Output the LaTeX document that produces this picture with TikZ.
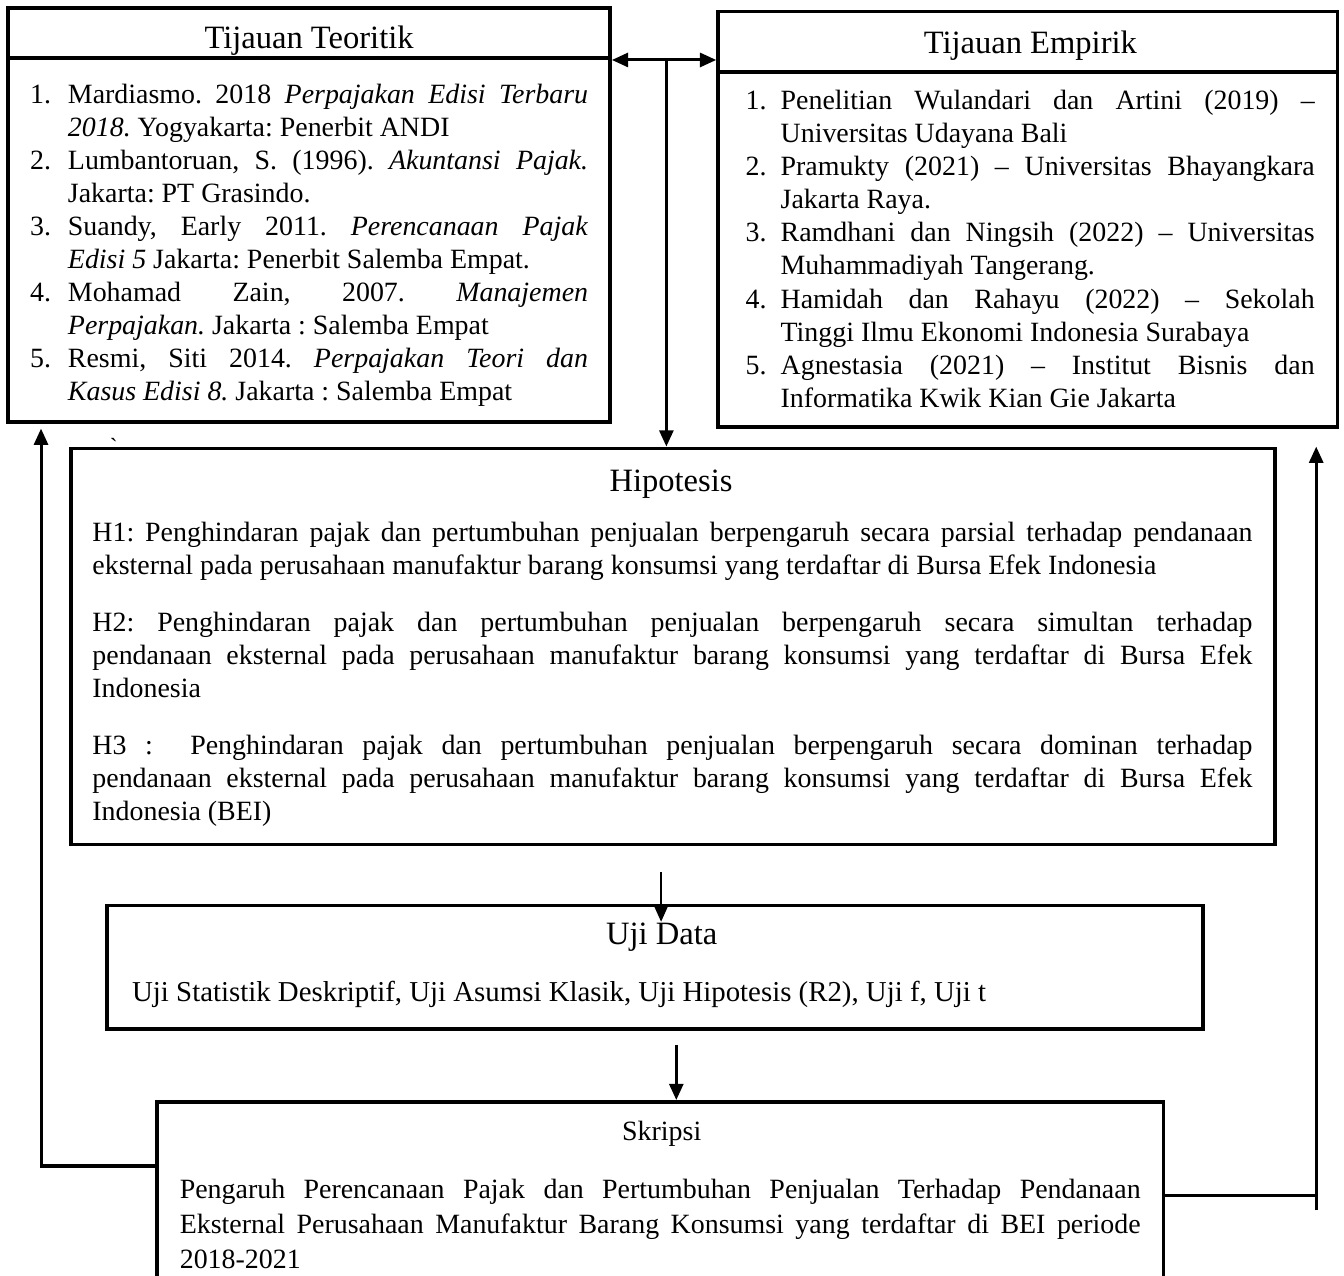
\documentclass[tikz,border=0pt]{standalone}
\usepackage{fontspec}
\setmainfont{Liberation Serif}
\usetikzlibrary{arrows.meta}
\newcommand{\butir}[2]{\noindent\hangindent=#1\hangafter=1\makebox[#1][l]{#2}}

\begin{document}
\begin{tikzpicture}
      \tikzstyle{arrow} = [line width=1.3pt, ->, >={Triangle[length=7pt, width=6pt]}]
      \tikzstyle{boxed} = [rectangle, draw=black, line width=1.5pt, inner sep=0pt]
      \tikzstyle{heading} = [inner sep=0pt, anchor=base, font={\fontsize{14}{16}\selectfont}]
      \tikzstyle{bodytext} = [inner sep=0pt, anchor=base west, align=justify, font={\fontsize{12}{14.2}\selectfont\frenchspacing\hyphenpenalty10000}]

      \useasboundingbox (0cm, 0cm) rectangle (20.31cm, -19.28cm);

      % kotak
      \node[boxed, minimum width=9.10cm, minimum height=0.76cm] (teoritik-head) at (4.67cm, -0.50cm) {};
      \node[boxed, minimum width=9.10cm, minimum height=5.50cm] (teoritik) at (4.67cm, -3.63cm) {};
      \node[boxed, minimum width=9.36cm, minimum height=0.92cm] (empirik-head) at (15.53cm, -0.63cm) {};
      \node[boxed, minimum width=9.36cm, minimum height=5.36cm] (empirik) at (15.53cm, -3.77cm) {};
      \node[boxed, minimum width=18.20cm, minimum height=5.99cm] (hipotesis) at (10.17cm, -9.77cm) {};
      \node[boxed, minimum width=16.56cm, minimum height=1.87cm] (uji) at (9.90cm, -14.615cm) {};
      \node[boxed, minimum width=15.21cm, minimum height=3.30cm] (skripsi) at (9.975cm, -18.30cm) {};

      % judul
      \node[heading] (teoritik-title) at (4.67cm, -0.73cm) {Tijauan Teoritik};
      \node[heading] (empirik-title) at (15.57cm, -0.81cm) {Tijauan Empirik};
      \node[heading] (hipotesis-title) at (10.14cm, -7.43cm) {Hipotesis};
      \node[heading] (uji-title) at (10.0cm, -14.28cm) {Uji Data};
      \node[heading, font={\fontsize{12}{14}\selectfont}] (skripsi-title) at (10.0cm, -17.24cm) {Skripsi};

      % isi
      \node[bodytext, text width=8.43cm] (teoritik-list) at (0.45cm, -1.56cm) {%
        \butir{0.57cm}{1.}Mardiasmo. 2018 \textit{Perpajakan Edisi Terbaru}\linebreak \textit{2018.} Yogyakarta: Penerbit ANDI\par
        \butir{0.57cm}{2.}Lumbantoruan, S. (1996). \textit{Akuntansi Pajak.}\linebreak Jakarta: PT Grasindo.\par
        \butir{0.57cm}{3.}Suandy, Early 2011. \textit{Perencanaan Pajak}\linebreak \textit{Edisi 5} Jakarta: Penerbit Salemba Empat.\par
        \butir{0.57cm}{4.}Mohamad Zain, 2007. \textit{Manajemen}\linebreak \textit{Perpajakan.} Jakarta : Salemba Empat\par
        \butir{0.57cm}{5.}Resmi, Siti 2014. \textit{Perpajakan Teori dan}\linebreak \textit{Kasus Edisi 8.} Jakarta : Salemba Empat\par};
      \node[bodytext, text width=8.60cm] (empirik-list) at (11.26cm, -1.66cm) {%
        \butir{0.53cm}{1.}Penelitian Wulandari dan Artini (2019) --\linebreak Universitas Udayana Bali\par
        \butir{0.53cm}{2.}Pramukty (2021) -- Universitas Bhayangkara\linebreak Jakarta Raya.\par
        \butir{0.53cm}{3.}Ramdhani dan Ningsih (2022) -- Universitas\linebreak Muhammadiyah Tangerang.\par
        \butir{0.53cm}{4.}Hamidah dan Rahayu (2022) -- Sekolah\linebreak Tinggi Ilmu Ekonomi Indonesia Surabaya\par
        \butir{0.53cm}{5.}Agnestasia (2021) -- Institut Bisnis dan\linebreak Informatika Kwik Kian Gie Jakarta\par};
      \node[bodytext, text width=17.53cm] (hipotesis-list) at (1.39cm, -8.18cm) {%
        H1: Penghindaran pajak dan pertumbuhan penjualan berpengaruh secara parsial terhadap pendanaan\linebreak
        eksternal pada perusahaan manufaktur barang konsumsi yang terdaftar di Bursa Efek Indonesia\par\vspace{10.3pt}
        H2: Penghindaran pajak dan pertumbuhan penjualan berpengaruh secara simultan terhadap\linebreak
        pendanaan eksternal pada perusahaan manufaktur barang konsumsi yang terdaftar di Bursa Efek\linebreak
        Indonesia\par\vspace{10.3pt}
        H3 :\ \ Penghindaran pajak dan pertumbuhan penjualan berpengaruh secara dominan terhadap\linebreak
        pendanaan eksternal pada perusahaan manufaktur barang konsumsi yang terdaftar di Bursa Efek\linebreak
        Indonesia (BEI)\par};
      \node[bodytext, font={\fontsize{12.4}{14.2}\selectfont}] (uji-list) at (1.99cm, -15.14cm) {Uji Statistik Deskriptif, Uji Asumsi Klasik, Uji Hipotesis (R2), Uji f, Uji t};
      \node[bodytext, text width=14.52cm, font={\fontsize{12}{15}\selectfont\hyphenpenalty10000}] (skripsi-text) at (2.71cm, -18.11cm) {%
        Pengaruh Perencanaan Pajak dan Pertumbuhan Penjualan Terhadap Pendanaan\linebreak
        Eksternal Perusahaan Manufaktur Barang Konsumsi yang terdaftar di BEI periode\linebreak
        2018-2021\par};
      \node[inner sep=0pt] (backtick) at (1.72cm, -6.74cm) {\textasciigrave};

      % panah
      \coordinate (junction) at (10.07cm, -0.88cm);
      \draw[arrow, <->] (teoritik-head.south east) -- (teoritik-head.south east -| empirik-head.west);
      \draw[arrow] (junction) -- (junction |- hipotesis.north);

      \coordinate (hip-out) at (9.99cm, -13.18cm);
      \coordinate (uji-in) at (9.99cm, -13.93cm);
      \draw[arrow, line width=0.9pt] (hip-out) -- (uji-in);

      \coordinate (uji-out) at (10.22cm, -15.79cm);
      \draw[arrow] (uji-out) -- (uji-out |- skripsi.north);

      \coordinate (loop-left) at (0.62cm, -17.62cm);
      \draw[arrow, shorten >=2pt] (skripsi.west |- loop-left) -- (loop-left) -- (loop-left |- teoritik.south);

      \coordinate (loop-right) at (19.89cm, -18.06cm);
      \draw[line width=1.3pt] (skripsi.east |- loop-right) -- (loop-right);
      \draw[arrow] ([yshift=-0.23cm]loop-right) -- (loop-right |- hipotesis.north);
\end{tikzpicture}
\end{document}
